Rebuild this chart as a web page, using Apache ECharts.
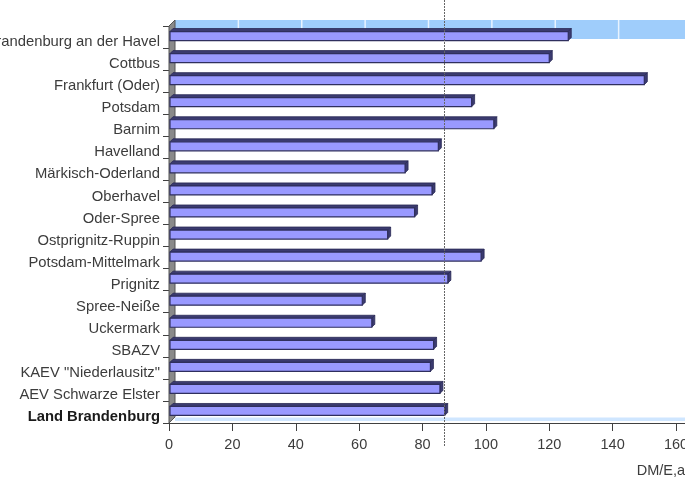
<!DOCTYPE html>
<html><head><meta charset="utf-8">
<script src="https://cdn.jsdelivr.net/npm/echarts@6/dist/echarts.min.js"></script>
<style>html,body{margin:0;padding:0;background:#fff}#c{width:685px;height:490px}</style>
</head><body><div id="c"></div>
<script>
var categories = ['Brandenburg an der Havel','Cottbus','Frankfurt (Oder)','Potsdam','Barnim','Havelland','Märkisch-Oderland','Oberhavel','Oder-Spree','Ostprignitz-Ruppin','Potsdam-Mittelmark','Prignitz','Spree-Neiße','Uckermark','SBAZV','KAEV "Niederlausitz"','AEV Schwarze Elster','Land Brandenburg'];
var values = [126, 120, 150, 95.5, 102.5, 85, 74.5, 83, 77.5, 69, 98.5, 88, 61, 64, 83.5, 82.5, 85.5, 87];
var xTicks = [0, 20, 40, 60, 80, 100, 120, 140, 160];
var averageLine = 86.7;
var unitLabel = 'DM/E,a';

var FONT = 'Liberation Sans, Arial, sans-serif';
var chart = echarts.init(document.getElementById('c'), null, {renderer:'canvas'});
var D = 3;
var option = {
  animation: false,
  grid: {left: 169, right: 9, top: 26, bottom: 67, containLabel: false, outerBoundsMode: 'none'},
  xAxis: {
    type: 'value', min: xTicks[0], max: xTicks[xTicks.length-1], interval: 20,
    axisLine: {show: true, lineStyle: {color: '#404040', width: 1}},
    axisTick: {show: true, length: 8, lineStyle: {color: '#404040'}},
    axisLabel: {color: '#3c3c3c', fontSize: 14.5, fontFamily: FONT, margin: 14.5},
    splitLine: {show: false}
  },
  yAxis: {
    type: 'category', data: categories, inverse: true,
    axisLine: {show: true, lineStyle: {color: '#404040', width: 1}},
    axisTick: {show: true, length: 6, lineStyle: {color: '#404040'}},
    axisLabel: {
      color: '#3c3c3c', fontSize: 14.8, fontFamily: FONT, margin: 9,
      padding: [10, 0, 0, 0],
      formatter: function (v, i) { return i === categories.length - 1 ? '{b|' + v + '}' : v; },
      rich: {b: {fontWeight: 'bold', color: '#1a1a1a', fontSize: 14.8, fontFamily: FONT}}
    }
  },
  series: [{
    type: 'custom',
    data: values.map(function (v, i) { return [v, i]; }),
    encode: {x: 0, y: 1},
    renderItem: function (params, api) {
      var s = api.coord([0, api.value(1)]);
      var e = api.coord([api.value(0), api.value(1)]);
      var c = s[1] - 1;
      var x0 = s[0] + 1, x1 = e[0];
      var top = c - 4.5, bot = c + 4.5;
      return {
        type: 'group',
        children: [
          {type: 'polygon', shape: {points: [[x0, top], [x0 + D, top - D], [x1 + D, top - D], [x1, top]]},
           style: {fill: '#3b3b70', stroke: '#2a2a55', lineWidth: 0.8}},
          {type: 'polygon', shape: {points: [[x1, top], [x1 + D, top - D], [x1 + D, bot - D], [x1, bot]]},
           style: {fill: '#3b3b70', stroke: '#2a2a55', lineWidth: 0.8}},
          {type: 'rect', shape: {x: x0, y: top, width: x1 - x0, height: bot - top},
           style: {fill: '#9999FF', stroke: '#2f2f5e', lineWidth: 1.2}}
        ]
      };
    },
    z: 10
  }]
};
chart.setOption(option);

var g = [];
var xs = xTicks.map(function (t) { return chart.convertToPixel({xAxisIndex: 0}, t); });
var gl = xs[0], gr = 685;
var gt = 26, gb = 423;
g.push({type: 'rect', shape: {x: gl + 6, y: gt - 6, width: gr - gl, height: 19}, style: {fill: '#9FCDFB'}, z: 1});
xs.slice(1, xs.length - 1).forEach(function (px) {
  g.push({type: 'line', shape: {x1: px + 6, y1: gt - 6, x2: px + 6, y2: gt + 13}, style: {stroke: '#E8F3FF', lineWidth: 1.5}, z: 2});
});
g.push({type: 'rect', shape: {x: gl + 6, y: gb - 5.5, width: gr - gl, height: 3.5}, style: {fill: '#CFE6FF'}, z: 1});
g.push({type: 'polygon', shape: {points: [[gl, gt], [gl + 6, gt - 6], [gl + 6, gb - 6], [gl, gb]]},
  style: {fill: '#8a8a8a', stroke: '#555', lineWidth: 1}, z: 3});
g.push({type: 'line', shape: {x1: xs[xs.length - 1], y1: gb + 0.5, x2: 685, y2: gb + 0.5}, style: {stroke: '#404040', lineWidth: 1}, z: 3});
var ax = Math.round(chart.convertToPixel({xAxisIndex: 0}, averageLine)) + 0.5;
g.push({type: 'line', shape: {x1: ax, y1: 0, x2: ax, y2: 446}, style: {stroke: '#666', lineWidth: 1, lineDash: [2, 1]}, z: 20});
g.push({type: 'text', style: {text: unitLabel, x: 685, y: 471, textAlign: 'right', textVerticalAlign: 'middle',
  fill: '#3c3c3c', fontSize: 14.5, fontFamily: FONT}, z: 20});
chart.setOption({graphic: g});
</script>
</body></html>
